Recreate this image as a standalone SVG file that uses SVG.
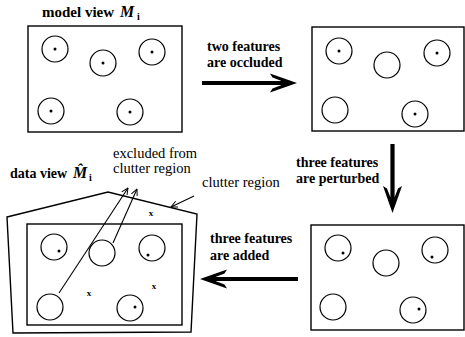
<svg xmlns="http://www.w3.org/2000/svg" xmlns:xlink="http://www.w3.org/1999/xlink" width="465" height="337" viewBox="0 0 465 337">
  <style>
    .frame { fill: none; stroke: #000; stroke-width: 1.4; }
    .feat { fill: none; stroke: #000; stroke-width: 1.2; }
    .dot { fill: #000; }
    .lbl { font-family: "Liberation Serif", "Times New Roman", serif; font-size: 14px; font-weight: bold; fill: #000; }
    .ttl { font-family: "Liberation Serif", "Times New Roman", serif; font-size: 15px; font-weight: bold; fill: #000; }
    .note { font-family: "Liberation Serif", "Times New Roman", serif; font-size: 14.5px; fill: #000; }
    .sym { font-family: "Liberation Serif", "Times New Roman", serif; font-size: 16px; font-weight: bold; font-style: italic; fill: #000; }
    .sub { font-family: "Liberation Serif", "Times New Roman", serif; font-size: 10px; font-weight: bold; fill: #000; }
    .xm { font-family: "Liberation Serif", "Times New Roman", serif; font-size: 9px; font-weight: bold; fill: #000; text-anchor: middle; }
    .thin { fill: none; stroke: #000; stroke-width: 1.1; }
    .shaft { fill: none; stroke: #000; stroke-width: 4.2; }
  </style>
  <defs>
    <!-- heavy barbed arrowhead, tip at origin, pointing along +x -->
    <path id="head" d="M0,0 L-27,-9.5 L-24.5,-5.5 L-16,-2.2 L-16,2.2 L-24.5,5.5 L-27,9.5 Z" fill="#000"/>
    <!-- small open arrowhead for leader lines -->
    <marker id="open" viewBox="0 0 10 10" refX="9.5" refY="5" markerWidth="7" markerHeight="7" markerUnits="userSpaceOnUse" orient="auto">
      <path d="M0,0.5 L9.5,5 L0,9.5" fill="none" stroke="#000" stroke-width="1.4"/>
    </marker>
  </defs>

  <!-- model view -->
  <g id="model-view">
    <rect class="frame" x="28" y="26" width="154" height="106"/>
    <text class="ttl" x="42" y="17">model view</text>
    <text class="sym" x="120" y="17">M</text>
    <text class="sub" x="137" y="20">i</text>
    <circle class="feat" cx="55" cy="49" r="13"/><circle class="dot" cx="55" cy="49" r="1.5"/>
    <circle class="feat" cx="103" cy="63" r="13"/><circle class="dot" cx="103" cy="63" r="1.5"/>
    <circle class="feat" cx="152" cy="52" r="13"/><circle class="dot" cx="152" cy="52" r="1.5"/>
    <circle class="feat" cx="51" cy="111" r="13"/><circle class="dot" cx="51" cy="111" r="1.5"/>
    <circle class="feat" cx="130" cy="112" r="13"/><circle class="dot" cx="130" cy="112" r="1.5"/>
  </g>

  <!-- after occlusion -->
  <g id="occluded-view">
    <rect class="frame" x="312" y="27" width="152" height="104"/>
    <circle class="feat" cx="339" cy="51" r="13"/><circle class="dot" cx="339" cy="51" r="1.5"/>
    <circle class="feat" cx="387" cy="65" r="13"/>
    <circle class="feat" cx="437" cy="53" r="13"/><circle class="dot" cx="437" cy="53" r="1.5"/>
    <circle class="feat" cx="335" cy="110" r="13"/>
    <circle class="feat" cx="415" cy="114" r="13"/><circle class="dot" cx="415" cy="114" r="1.5"/>
  </g>

  <!-- after perturbation -->
  <g id="perturbed-view">
    <rect class="frame" x="311" y="225" width="153" height="105"/>
    <circle class="feat" cx="338" cy="248" r="13"/><circle class="dot" cx="343" cy="253" r="1.5"/>
    <circle class="feat" cx="386" cy="263" r="13"/>
    <circle class="feat" cx="435" cy="250" r="13"/><circle class="dot" cx="432" cy="257" r="1.5"/>
    <circle class="feat" cx="333" cy="307" r="13"/>
    <circle class="feat" cx="413" cy="310" r="13"/><circle class="dot" cx="419" cy="309" r="1.5"/>
  </g>

  <!-- data view with clutter region -->
  <g id="data-view">
    <polygon class="frame" points="7,217 108,192 197,214 191,332 13,333"/>
    <rect class="frame" x="27" y="224" width="155" height="101"/>
    <text class="lbl" x="10" y="178">data view</text>
    <text class="sym" x="73" y="178">M&#770;</text>
    <text class="sub" x="89" y="181">i</text>
    <circle class="feat" cx="54" cy="247" r="13"/><circle class="dot" cx="59" cy="251" r="1.5"/>
    <circle class="feat" cx="102" cy="253" r="13"/>
    <circle class="feat" cx="152" cy="248" r="13"/><circle class="dot" cx="148" cy="255" r="1.5"/>
    <circle class="feat" cx="50" cy="307" r="13"/>
    <circle class="feat" cx="130" cy="308" r="13"/><circle class="dot" cx="135" cy="307" r="1.5"/>
    <text class="xm" x="151" y="216">x</text>
    <text class="xm" x="154" y="289">x</text>
    <text class="xm" x="89" y="296">x</text>
  </g>

  <g id="annotations">
    <text class="note" x="113" y="158">excluded from</text>
    <text class="note" x="113" y="173">clutter region</text>
    <text class="note" x="202" y="187">clutter region</text>
  </g>

  <!-- connectors -->
  <g id="connectors">
    <line class="shaft" x1="202" y1="83" x2="281" y2="83"/>
    <use xlink:href="#head" transform="translate(297,83)"/>
    <line class="shaft" x1="392.5" y1="144" x2="392.5" y2="198"/>
    <use xlink:href="#head" transform="translate(392.5,213) rotate(90)"/>
    <line class="shaft" x1="298" y1="279" x2="215" y2="279"/>
    <use xlink:href="#head" transform="translate(200,279) rotate(180)"/>
    <line class="thin" x1="59" y1="293" x2="128" y2="188" marker-end="url(#open)"/>
    <line class="thin" x1="113" y1="243" x2="137" y2="189" marker-end="url(#open)"/>
    <line class="thin" x1="194" y1="196" x2="171" y2="207" marker-end="url(#open)"/>
  </g>

  <g id="labels">
    <text class="lbl" x="207" y="51">two features</text>
    <text class="lbl" x="207" y="67">are occluded</text>
    <text class="lbl" x="296" y="167">three features</text>
    <text class="lbl" x="296" y="183">are perturbed</text>
    <text class="lbl" x="210" y="243">three features</text>
    <text class="lbl" x="210" y="260">are added</text>
  </g>
</svg>
